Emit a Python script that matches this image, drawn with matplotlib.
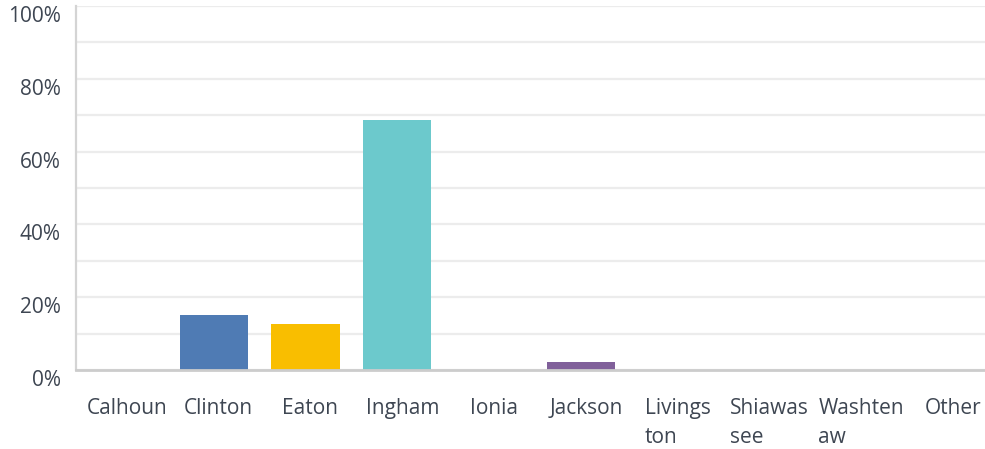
import matplotlib
matplotlib.use('Agg')
import matplotlib.pyplot as plt
import matplotlib.transforms as mtransforms
from matplotlib.ticker import MultipleLocator, FixedLocator

# data (percent of respondents)
counties = ['Calhoun', 'Clinton', 'Eaton', 'Ingham', 'Ionia', 'Jackson',
            'Livings\nton', 'Shiawas\nsee', 'Washten\naw', 'Other']
values = [0, 15.1, 12.6, 68.7, 0, 2.2, 0, 0, 0, 0]
colors = ['#4f7bb4', '#4f7bb4', '#f9be00', '#6cc9cc', '#6cc9cc', '#80609a',
          '#80609a', '#80609a', '#80609a', '#80609a']
y_ticks = [0, 20, 40, 60, 80, 100]

plt.rcParams['font.family'] = ['Open Sans', 'DejaVu Sans']
text_color = '#3e4652'

fig = plt.figure(figsize=(9.85, 4.49), dpi=100)
ax = fig.add_axes([76 / 985, 79 / 449, 918 / 985, 364 / 449])

x = list(range(len(counties)))
ax.bar(x, values, width=0.745, color=colors, zorder=3)

ax.set_xlim(-0.5, len(counties) - 0.5)
ax.set_ylim(0, 100)
ax.yaxis.set_major_locator(FixedLocator(y_ticks))
ax.yaxis.set_minor_locator(MultipleLocator(10))
ax.set_yticklabels([f'{v}%' for v in y_ticks], fontsize=15, color=text_color, va='top')
ax.grid(axis='y', which='both', color='#ececec', linewidth=1.6, zorder=0)
ax.tick_params(axis='y', which='both', length=0, pad=11)

ax.set_xticks(x)
ax.set_xticklabels(counties, fontsize=15, color=text_color, linespacing=1.5,
                   ma='left')
ax.tick_params(axis='x', length=0, pad=20)
# labels sit a few pixels right of the bar centres in the original
shift = mtransforms.ScaledTranslation(5 / 100, 0, fig.dpi_scale_trans)
for lbl in ax.get_xticklabels():
    lbl.set_transform(lbl.get_transform() + shift)

for side in ['top', 'right']:
    ax.spines[side].set_visible(False)
ax.spines['left'].set_color('#d4d4d4')
ax.spines['left'].set_linewidth(1.6)
ax.spines['bottom'].set_color('#cccccc')
ax.spines['bottom'].set_linewidth(2)
ax.spines['bottom'].set_zorder(4)

fig.savefig('out.png', dpi=100, facecolor='white')
